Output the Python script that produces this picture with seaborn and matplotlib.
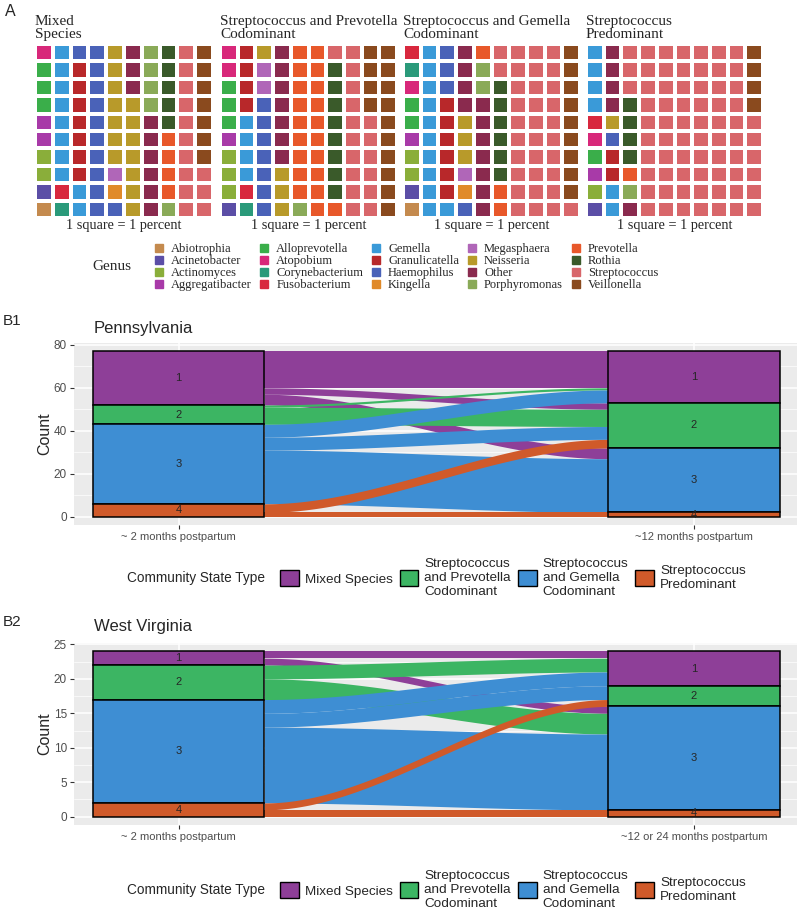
import numpy as np
import matplotlib
matplotlib.use("Agg")
import matplotlib.pyplot as plt
import seaborn as sns
from matplotlib.colors import ListedColormap
from matplotlib.patches import Patch
from matplotlib.lines import Line2D

sns.set_theme(style="white")
plt.rcParams['font.family'] = ['Liberation Sans', 'DejaVu Sans']

SERIF = ['Liberation Serif', 'DejaVu Serif']
SANS = ['Liberation Sans', 'DejaVu Sans']

# ---- panel A data: genus composition, percent per community state type ----
genera = ['Abiotrophia', 'Acinetobacter', 'Actinomyces', 'Aggregatibacter',
          'Alloprevotella', 'Atopobium', 'Corynebacterium', 'Fusobacterium',
          'Gemella', 'Granulicatella', 'Haemophilus', 'Kingella',
          'Megasphaera', 'Neisseria', 'Other', 'Porphyromonas',
          'Prevotella', 'Rothia', 'Streptococcus', 'Veillonella']
genus_colors = ['#c48a4e', '#5b4ea6', '#8aae3a', '#a83aa8',
                '#3aae4a', '#d8287a', '#2a9a7a', '#d8283e',
                '#3a9ad8', '#b8282a', '#4a62b8', '#e08a2a',
                '#b066b8', '#b89a2a', '#8a2a4e', '#8aaa58',
                '#e8582a', '#3a5a2a', '#d8666a', '#8a4a1e']

waffle_titles = ['Mixed\nSpecies', 'Streptococcus and Prevotella\nCodominant',
                 'Streptococcus and Gemella\nCodominant', 'Streptococcus\nPredominant']
mixed_counts = [1, 1, 2, 2, 3, 1, 1, 1, 10, 7, 12, 1, 1, 14, 9, 5, 4, 5, 13, 7]
prev_counts = [0, 1, 3, 1, 3, 2, 1, 1, 4, 4, 7, 0, 2, 4, 7, 1, 20, 8, 17, 14]
gemella_counts = [1, 1, 2, 1, 2, 1, 1, 1, 11, 6, 4, 1, 1, 3, 11, 2, 3, 6, 33, 9]
strep_counts = [0, 1, 1, 1, 1, 1, 0, 1, 6, 2, 1, 0, 0, 1, 5, 1, 1, 4, 69, 4]

# ---- panel B data: community state type transitions (rows = first visit) ----
cst_names = ['Mixed Species', 'Streptococcus\nand Prevotella\nCodominant',
             'Streptococcus\nand Gemella\nCodominant', 'Streptococcus\nPredominant']
cst_colors = ['#8e3f98', '#3cb563', '#3e8ed3', '#d05a2a']

pa_flows = [[17, 3, 5, 0],
            [1, 8, 0, 0],
            [6, 6, 25, 0],
            [0, 4, 0, 2]]
pa_times = ['~ 2 months postpartum', '~12 months postpartum']
pa_ticks = [0, 20, 40, 60, 80]

wv_flows = [[1, 0, 1, 0],
            [2, 0, 3, 0],
            [2, 2, 11, 0],
            [0, 1, 0, 1]]
wv_times = ['~ 2 months postpartum', '~12 or 24 months postpartum']
wv_ticks = [0, 5, 10, 15, 20, 25]

W, H = 800, 913
fig = plt.figure(figsize=(W / 100, H / 100), dpi=100)


def px_axes(x0, y0, x1, y1):
    return fig.add_axes([x0 / W, 1 - y1 / H, (x1 - x0) / W, (y1 - y0) / H])


def waffle_matrix(counts):
    seq = np.repeat(np.arange(len(counts)), counts)
    cols = seq.reshape(10, 10)      # filled column by column, bottom up
    return cols.T[::-1]


# ---- A: waffles ----
cmap = ListedColormap(genus_colors)
boxes = [(35, 213), (220, 397), (403, 580), (586, 763)]
for (x0, x1), title, counts in zip(boxes, waffle_titles,
                                    [mixed_counts, prev_counts, gemella_counts, strep_counts]):
    ax = px_axes(x0, 44, x1, 218)
    sns.heatmap(waffle_matrix(counts), ax=ax, cmap=cmap, vmin=-0.5, vmax=19.5,
                linewidths=1.6, linecolor='white', cbar=False,
                xticklabels=False, yticklabels=False)
    ax.text(0, 1.02, title, transform=ax.transAxes, ha='left', va='bottom',
            family=SERIF, fontsize=11, linespacing=0.92)
    ax.text(0.5, -0.005, '1 square = 1 percent', transform=ax.transAxes,
            ha='center', va='top', family=SERIF, fontsize=10.3)

fig.text(5 / W, 1 - 12 / H, 'A', fontsize=11.5, va='center')

genus_handles = [Line2D([], [], marker='s', linestyle='', markersize=6, color=c)
                 for c in genus_colors]
fig.legend(genus_handles, genera, ncol=5, loc='upper left',
           bbox_to_anchor=(153 / W, 1 - 243 / H), frameon=False,
           prop={'family': SERIF, 'size': 9}, handlelength=0.9,
           handletextpad=0.5, columnspacing=0.6, labelspacing=0.0,
           borderpad=0, borderaxespad=0)
fig.text(92 / W, 1 - 267 / H, 'Genus', family=SERIF, fontsize=11, va='center')


# ---- B: alluvial plots ----
def draw_alluvial(ax, flows, times, ticks):
    flows = np.array(flows)
    total = flows.sum()
    left = flows.sum(axis=1)
    right = flows.sum(axis=0)
    w = 1 / 3
    ltop = total - np.concatenate([[0], np.cumsum(left)[:-1]])
    rtop = total - np.concatenate([[0], np.cumsum(right)[:-1]])
    xs = np.linspace(1 + w / 2, 2 - w / 2, 200)
    t = (xs - xs[0]) / (xs[-1] - xs[0])
    s = t * t * (3 - 2 * t)
    for i in range(4):
        for j in range(4):
            n = flows[i, j]
            if n == 0:
                continue
            lt = ltop[i] - flows[i, :j].sum()
            rt = rtop[j] - flows[:i, j].sum()
            top = lt + (rt - lt) * s
            ax.fill_between(xs, top - n, top, color=cst_colors[i], lw=0, zorder=2)
    for pos, counts, tops in [(1, left, ltop), (2, right, rtop)]:
        ax.bar([pos] * 4, counts, bottom=tops - counts, width=w, color=cst_colors,
               edgecolor='black', linewidth=1.1, zorder=3)
        for k in range(4):
            ax.text(pos, tops[k] - counts[k] / 2, str(k + 1), ha='center',
                    va='center', fontsize=8, zorder=4)
    pad = total * 0.05
    ax.set_ylim(-pad, total + pad)
    ax.set_xlim(0.797, 2.2)
    ax.set_facecolor('#ebebeb')
    for sp in ax.spines.values():
        sp.set_visible(False)
    ax.set_yticks(ticks)
    ax.set_yticks([(a + b) / 2 for a, b in zip(ticks[:-1], ticks[1:])], minor=True)
    ax.set_xticks([1, 2])
    ax.set_xticklabels(times)
    ax.grid(True, which='major', color='white', lw=1.1)
    ax.grid(True, which='minor', axis='y', color='white', lw=0.5)
    ax.set_axisbelow(True)
    ax.tick_params(axis='both', which='major', length=3, width=0.8, color='#333333',
                   labelcolor='#4d4d4d', labelsize=8, pad=2, left=True, bottom=True)
    ax.tick_params(axis='y', labelsize=8.5)
    ax.tick_params(which='minor', length=0)
    ax.set_ylabel('Count', fontsize=11.5, labelpad=1)


def cst_legend(y):
    handles = [Patch(facecolor=c, edgecolor='black', linewidth=1) for c in cst_colors]
    fig.legend(handles, cst_names, ncol=4, loc='center left',
               bbox_to_anchor=(280 / W, 1 - y / H), frameon=False,
               prop={'family': SANS, 'size': 9.7}, handlelength=1.4,
               handleheight=1.5, handletextpad=0.45, columnspacing=0.5,
               labelspacing=0.2, borderpad=0, borderaxespad=0)
    fig.text(265 / W, 1 - y / H, 'Community State Type', family=SANS,
             fontsize=9.8, ha='right', va='center')


ax1 = px_axes(74, 343, 797, 525)
draw_alluvial(ax1, pa_flows, pa_times, pa_ticks)
fig.text(3 / W, 1 - 321 / H, 'B1', fontsize=11, va='center')
fig.text(94 / W, 1 - 328 / H, 'Pennsylvania', fontsize=12, va='center')
cst_legend(578)

ax2 = px_axes(74, 643, 797, 825)
draw_alluvial(ax2, wv_flows, wv_times, wv_ticks)
fig.text(3 / W, 1 - 622 / H, 'B2', fontsize=11, va='center')
fig.text(94 / W, 1 - 627 / H, 'West Virginia', fontsize=12, va='center')
cst_legend(890)

fig.savefig('out.png', dpi=100)
